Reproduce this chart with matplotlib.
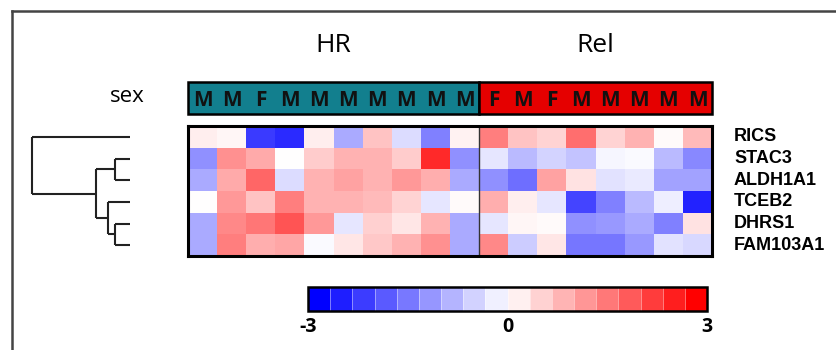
import numpy as np
import matplotlib
matplotlib.use("Agg")
import matplotlib.pyplot as plt
from matplotlib.colors import ListedColormap, BoundaryNorm
from matplotlib.patches import Rectangle
from matplotlib.lines import Line2D
from matplotlib.ticker import NullLocator
import matplotlib.colorbar as mcolorbar

genes = ["RICS", "STAC3", "ALDH1A1", "TCEB2", "DHRS1", "FAM103A1"]
groups = ["HR", "Rel"]
group_sizes = [10, 8]
sex = ["M", "M", "F", "M", "M", "M", "M", "M", "M", "M",
       "F", "M", "F", "M", "M", "M", "M", "M"]

hr_values = [
    [0.2, 0.1, -2.3, -2.5, 0.2, -1.0, 0.7, -0.4, -1.5, 0.15],
    [-1.3, 1.3, 1.0, 0.0, 0.6, 0.9, 0.9, 0.6, 2.5, -1.3],
    [-1.0, 1.0, 1.8, -0.4, 0.9, 1.1, 0.9, 1.2, 0.95, -1.0],
    [0.0, 1.2, 0.7, 1.5, 0.9, 0.9, 0.8, 0.5, -0.3, 0.05],
    [-1.0, 1.4, 1.6, 2.0, 1.2, -0.3, 0.55, 0.3, 0.9, -1.0],
    [-1.0, 1.5, 0.95, 1.05, -0.05, 0.3, 0.65, 0.9, 1.3, -1.0],
]
rel_values = [
    [1.5, 0.7, 0.5, 1.7, 0.5, 0.9, 0.05, 0.8],
    [-0.3, -0.8, -0.5, -0.7, -0.1, -0.05, -0.8, -1.4],
    [-1.3, -1.7, 1.1, 0.35, -0.35, -0.25, -1.1, -1.1],
    [0.95, 0.2, -0.3, -2.2, -1.5, -0.8, -0.2, -2.6],
    [-0.3, 0.1, 0.05, -1.3, -1.2, -1.0, -1.5, 0.35],
    [1.4, -0.6, 0.3, -1.6, -1.6, -1.2, -0.35, -0.45],
]

# dendrogram merges: (left_id, right_id, height); leaves 0..5, new nodes 6..
merges = [
    (1, 2, 15),
    (4, 5, 15),
    (3, 7, 22),
    (6, 8, 34),
    (0, 9, 98),
]

cbar_ticks = [-3, 0, 3]

W, H = 836, 350
fig = plt.figure(figsize=(W / 100, H / 100), dpi=100)

def fx(px):
    return px / W

def fy(py):
    return 1 - py / H

data = np.hstack([np.array(hr_values), np.array(rel_values)])
ncol = data.shape[1]
nrow = data.shape[0]

# heatmap
hx0, hx1, hy0, hy1 = 188, 712, 126, 256
ax = fig.add_axes([fx(hx0), fy(hy1), fx(hx1 - hx0), fy(hy0) - fy(hy1)])
ax.imshow(data, cmap="bwr", vmin=-3, vmax=3, aspect="auto", interpolation="nearest")
ax.set_xticks([])
ax.set_yticks([])
for s in ax.spines.values():
    s.set_linewidth(2.2)
    s.set_color("black")
ax.axvline(group_sizes[0] - 0.5, color="#333333", lw=1.0)
for i, g in enumerate(genes):
    ax.text(1.042, 1 - (i + 0.5) / nrow, g, transform=ax.transAxes, ha="left", va="center",
            fontsize=13, fontweight="bold", family="Liberation Sans")

# sex bar
sx = fig.add_axes([fx(hx0), fy(114), fx(hx1 - hx0), fy(82) - fy(114)])
sx.set_xlim(-0.5, ncol - 0.5)
sx.set_ylim(0, 1)
sx.axis("off")
colors = ["#127f8e", "#e50000"]
start = 0
for gi, n in enumerate(group_sizes):
    sx.add_patch(Rectangle((start - 0.5, 0), n, 1, facecolor=colors[gi], edgecolor="black",
                           lw=1.8, clip_on=False))
    start += n
for j, s in enumerate(sex):
    sx.text(j, 0.42, s, ha="center", va="center", fontsize=15, fontweight="bold",
            family="Open Sans", color="#111111")

# group titles
start = 0
for gi, n in enumerate(group_sizes):
    cx = hx0 + (start + n / 2) * (hx1 - hx0) / ncol
    fig.text(fx(cx), fy(45), groups[gi], ha="center", va="center", fontsize=19,
             family="Open Sans")
    start += n
fig.text(fx(127), fy(97), "sex", ha="center", va="center", fontsize=16, family="Open Sans")

# dendrogram
dx = fig.add_axes([fx(32), fy(hy1), fx(130 - 32), fy(hy0) - fy(hy1)])
dx.set_ylim(nrow - 0.5, -0.5)
dx.set_xlim(98, 0)
dx.axis("off")
pos = {i: float(i) for i in range(nrow)}
hgt = {i: 0.0 for i in range(nrow)}
for k, (a, b, h) in enumerate(merges):
    nid = nrow + k
    for c in (a, b):
        dx.plot([hgt[c], h], [pos[c], pos[c]], color="#222222", lw=1.5, solid_capstyle="butt")
    dx.plot([h, h], [pos[a], pos[b]], color="#222222", lw=1.5, solid_capstyle="butt")
    pos[nid] = (pos[a] + pos[b]) / 2
    hgt[nid] = h
for line in dx.lines:
    line.set_clip_on(False)

# colorbar
cax = fig.add_axes([fx(308), fy(311), fx(707 - 308), fy(287) - fy(311)])
nlev = 18
cmap_d = ListedColormap(plt.get_cmap("bwr")(np.linspace(0, 1, nlev)))
bounds = np.linspace(-3, 3, nlev + 1)
norm = BoundaryNorm(bounds, nlev)
cb = mcolorbar.ColorbarBase(cax, cmap=cmap_d, norm=norm, orientation="horizontal",
                            boundaries=bounds, ticks=[])
cb.outline.set_linewidth(1.8)
cax.xaxis.set_minor_locator(NullLocator())
cax.tick_params(which="both", length=0)
for b in bounds[1:-1]:
    cax.axvline(b, color="white", lw=0.6, alpha=0.5)
for t in cbar_ticks:
    px = 308 + (t + 3) / 6 * (707 - 308)
    fig.text(fx(px), fy(327), str(t), ha="center", va="center", fontsize=14,
             fontweight="bold", family="Open Sans")

# frame lines
fig.add_artist(Line2D([fx(12), 1], [fy(11), fy(11)], color="#444444", lw=1.8))
fig.add_artist(Line2D([fx(12), fx(12)], [fy(11), 0], color="#444444", lw=1.8))

fig.savefig("out.png", dpi=100)
